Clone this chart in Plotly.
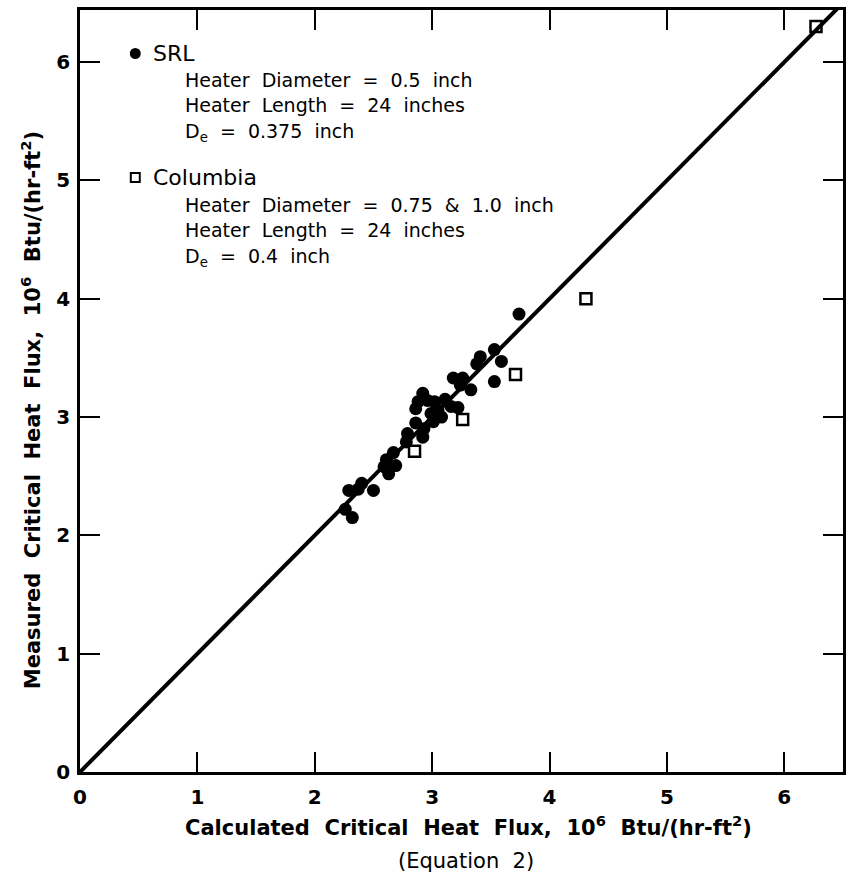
import plotly.graph_objects as go

# Critical heat flux: calculated (Equation 2) vs measured, 10^6 Btu/(hr-ft^2)
srl_calc = [3.74, 3.53, 3.59, 3.41, 3.38, 3.53, 3.18, 3.26, 3.24, 3.33,
            3.22, 2.92, 2.88, 2.86, 2.96, 3.02, 3.11, 3.16, 3.05, 2.99,
            3.08, 2.86, 3.01, 2.93, 2.79, 2.92, 2.78, 2.67, 2.61, 2.69,
            2.59, 2.63, 2.40, 2.29, 2.50, 2.37, 2.26, 2.32]
srl_meas = [3.87, 3.57, 3.47, 3.51, 3.45, 3.30, 3.33, 3.33, 3.27, 3.23,
            3.08, 3.20, 3.13, 3.07, 3.14, 3.13, 3.15, 3.09, 3.06, 3.03,
            3.00, 2.95, 2.96, 2.90, 2.86, 2.83, 2.79, 2.70, 2.64, 2.59,
            2.58, 2.52, 2.44, 2.38, 2.38, 2.39, 2.22, 2.15]

col_calc = [6.27, 4.31, 3.71, 3.26, 2.85]
col_meas = [6.30, 4.00, 3.36, 2.98, 2.71]

x_ticks = [0, 1, 2, 3, 4, 5, 6]
y_ticks = [0, 1, 2, 3, 4, 5, 6]

W, H = 849, 882
L, R, T, B = 80, 3, 10, 110
X_MAX, Y_MAX = 6.5, 6.44

FONT = "DejaVu Sans"
NB = "\u00a0"


def xp(px):
    """Pixel column -> paper x."""
    return (px - L) / (W - L - R)


def yp(py):
    """Pixel row -> paper y."""
    return (H - B - py) / (H - T - B)


def spaced(text):
    """Widen the gaps between words, lettering-guide style."""
    return (NB + " ").join(text.split(" "))


fig = go.Figure()

# Equality line: calculated = measured
fig.add_trace(go.Scatter(
    x=[0, X_MAX], y=[0, X_MAX], mode="lines",
    line=dict(color="black", width=4), showlegend=False, hoverinfo="skip"))

fig.add_trace(go.Scatter(
    x=srl_calc, y=srl_meas, mode="markers", name="SRL",
    marker=dict(symbol="circle", size=13, color="black",
                line=dict(width=0)),
    showlegend=False))

fig.add_trace(go.Scatter(
    x=col_calc, y=col_meas, mode="markers", name="Columbia",
    marker=dict(symbol="square-open", size=11, color="black",
                line=dict(width=2.5)),
    showlegend=False))

axis_common = dict(
    showline=True, linecolor="black", linewidth=2.5, mirror="ticks",
    ticks="inside", ticklen=20, tickwidth=2, tickcolor="black",
    showgrid=False, zeroline=False,
    tickfont=dict(family=FONT, size=20, color="black", weight="bold"),
)

fig.update_xaxes(range=[0, X_MAX], tickvals=x_ticks,
                 ticktext=[str(v) for v in x_ticks],
                 ticklabelstandoff=5, **axis_common)
fig.update_yaxes(range=[0, Y_MAX], tickvals=y_ticks,
                 ticktext=[str(v) for v in y_ticks],
                 ticklabelstandoff=3, **axis_common)

ann = []
title_font = dict(family=FONT, size=21, color="black", weight="bold")
title_text = spaced("Critical Heat Flux,") + NB + " 10<sup>6</sup>" + NB + " Btu/(hr-ft<sup>2</sup>)"
ann.append(dict(
    x=xp(470), y=yp(826), xref="paper", yref="paper",
    text="Calculated" + NB + " " + title_text,
    showarrow=False, xanchor="center", yanchor="middle", font=title_font))
ann.append(dict(
    x=xp(468), y=yp(861), xref="paper", yref="paper",
    text="(Equation" + NB + " 2)",
    showarrow=False, xanchor="center", yanchor="middle",
    font=dict(family=FONT, size=21, color="black")))
ann.append(dict(
    x=xp(31), y=yp(410), xref="paper", yref="paper",
    text="Measured" + NB + " " + title_text,
    showarrow=False, xanchor="center", yanchor="middle", textangle=-90,
    font=title_font))

head_font = dict(family=FONT, size=22, color="black")
sub_font = dict(family=FONT, size=19, color="black")

legend_blocks = [
    ("SRL", 53, ["Heater Diameter = 0.5 inch",
                 "Heater Length = 24 inches",
                 "D<sub>e</sub> = 0.375 inch"], [80, 105, 132]),
    ("Columbia", 177, ["Heater Diameter = 0.75 & 1.0 inch",
                       "Heater Length = 24 inches",
                       "D<sub>e</sub> = 0.4 inch"], [205, 230, 257]),
]
for head, hy, lines, ly in legend_blocks:
    ann.append(dict(x=xp(151), y=yp(hy), xref="paper", yref="paper",
                    text=head, showarrow=False, xanchor="left",
                    yanchor="middle", font=head_font))
    for t, y in zip(lines, ly):
        ann.append(dict(x=xp(183), y=yp(y), xref="paper", yref="paper",
                        text=spaced(t), showarrow=False, xanchor="left",
                        yanchor="middle", font=sub_font))

shapes = [
    dict(type="circle", xref="paper", yref="paper",
         x0=xp(130), x1=xp(141), y0=yp(59), y1=yp(48),
         fillcolor="black", line=dict(width=0)),
    dict(type="rect", xref="paper", yref="paper",
         x0=xp(131), x1=xp(140), y0=yp(182), y1=yp(173),
         fillcolor="white", line=dict(color="black", width=2)),
]

fig.update_layout(
    width=W, height=H,
    margin=dict(l=L, r=R, t=T, b=B),
    paper_bgcolor="white", plot_bgcolor="white",
    annotations=ann, shapes=shapes,
    font=dict(family=FONT, color="black"),
)

fig.write_html("out.html")
